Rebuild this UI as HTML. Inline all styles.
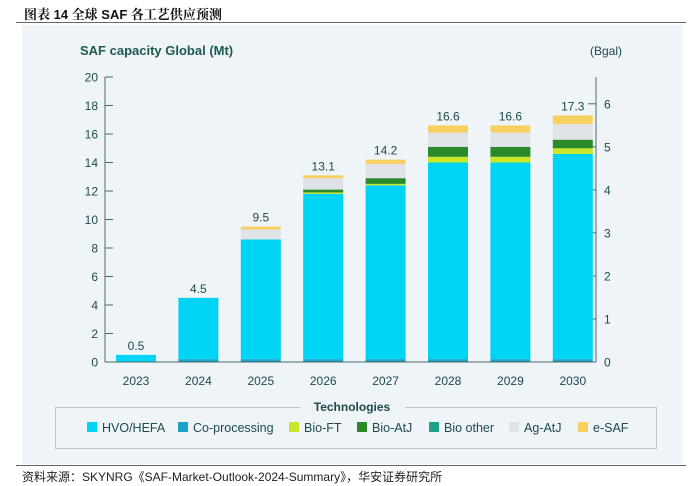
<!DOCTYPE html>
<html><head><meta charset="utf-8"><style>
body{margin:0;width:700px;height:486px;background:#fff;font-family:"Liberation Sans","Noto Sans CJK SC",sans-serif;position:relative;overflow:hidden}
.t{position:absolute}
</style></head><body>
<div class="t" style="left:24px;top:4px;font-size:13px;font-weight:bold;font-family:'Liberation Sans','Noto Serif CJK SC',serif;color:#111">图表 14 全球 SAF 各工艺供应预测</div>
<div class="t" style="left:16px;top:22px;width:670px;height:1px;background:#666"></div>
<div class="t" style="left:22px;top:25px;width:661px;height:439px;background:#eef4f8"></div>
<div class="t" style="left:16px;top:465px;width:670px;height:1px;background:#666"></div>
<div class="t" style="left:22px;top:468px;font-size:12px;color:#222">资料来源：SKYNRG《SAF-Market-Outlook-2024-Summary》，华安证券研究所</div>
<svg class="t" style="left:0;top:0" width="700" height="486" id="chart"></svg>
<script>
const years=["2023","2024","2025","2026","2027","2028","2029","2030"];
const hvo=[0.5,4.3,8.4,11.6,12.2,13.8,13.8,14.4];
const coproc=[0,0.2,0.2,0.2,0.2,0.2,0.2,0.2];
const bioFT=[0,0,0,0.1,0.1,0.4,0.4,0.4];
const bioAtJ=[0,0,0,0.2,0.4,0.7,0.7,0.6];
const bioOther=[0,0,0,0,0,0,0,0];
const agAtJ=[0,0,0.7,0.8,1.0,1.0,1.0,1.1];
const eSAF=[0,0,0.2,0.2,0.3,0.5,0.5,0.6];
const totals=["0.5","4.5","9.5","13.1","14.2","16.6","16.6","17.3"];
const leftTicks=[0,2,4,6,8,10,12,14,16,18,20];
const rightTicks=[0,1,2,3,4,5,6];
const MT_PER_BGAL=3.02;
const svg=document.getElementById('chart');const NS='http://www.w3.org/2000/svg';
function mk(t,a,txt){const e=document.createElementNS(NS,t);for(const k in a)e.setAttribute(k,a[k]);if(txt!==undefined)e.textContent=txt;svg.appendChild(e);return e;}
const y0=362,y20=77;const y=v=>y0-(y0-y20)*v/20;
const x=i=>136+i*62.4;const bw=40;
const tc="#1f4a4a";
let e=mk('text',{x:80,y:55,'font-size':13,'font-weight':'bold',fill:'#1d5a50'},'SAF capacity Global (Mt)');


e=mk('text',{x:606,y:55,'font-size':12,'text-anchor':'middle',fill:tc},'(Bgal)');


mk('line',{x1:105,y1:y(20),x2:105,y2:y0,stroke:'#4a6a6a','stroke-width':1});
mk('line',{x1:596,y1:y(20),x2:596,y2:y0,stroke:'#4a6a6a','stroke-width':1});
leftTicks.forEach(v=>{mk('line',{x1:105,y1:y(v),x2:113,y2:y(v),stroke:'#4a6a6a'});
 e=mk('text',{x:98,y:y(v)+4.5,'font-size':12,'text-anchor':'end',fill:tc},String(v));
 
 });
rightTicks.forEach(v=>{const yy=y(v*MT_PER_BGAL);mk('line',{x1:588,y1:yy,x2:596,y2:yy,stroke:'#4a6a6a'});
 e=mk('text',{x:604,y:yy+4.5,'font-size':12,fill:tc},String(v));
 
 });
const series=[[coproc,'#1ba3c6','co-processing'],[hvo,'#00d4f5','hvo-hefa'],[bioFT,'#c8e62a','bio-ft'],[bioAtJ,'#2a8a2a','bio-atj'],[bioOther,'#1fa08a','bio-other'],[agAtJ,'#dfe3e8','ag-atj'],[eSAF,'#f7d060','e-saf']];
years.forEach((yr,i)=>{let acc=0;
 series.forEach(([arr,c,n])=>{const v=arr[i];if(v>0){const r=mk('rect',{x:x(i)-bw/2,y:y(acc+v),width:bw,height:y(acc)-y(acc+v),fill:c});
  
  }acc+=v;});
 e=mk('text',{x:x(i),y:y(acc)-5,'font-size':12,'text-anchor':'middle',fill:tc},totals[i]);
 
 
 e=mk('text',{x:x(i),y:385,'font-size':12,'text-anchor':'middle',fill:tc},yr);
 
 });
mk('line',{x1:105,y1:y0,x2:596,y2:y0,stroke:'#4a6a6a'});
mk('polyline',{points:'300,407.5 55.5,407.5 55.5,448.5 656.5,448.5 656.5,407.5 405,407.5',fill:'none',stroke:'#bcc5cb'});
e=mk('text',{x:352,y:411,'font-size':12,'font-weight':'bold','text-anchor':'middle',fill:tc},'Technologies');


const leg=[['HVO/HEFA','#00d4f5',87],['Co-processing','#1ba3c6',178],['Bio-FT','#c8e62a',289],['Bio-AtJ','#2a8a2a',357],['Bio other','#1fa08a',429],['Ag-AtJ','#dfe3e8',509],['e-SAF','#f7d060',578]];
leg.forEach(([n,c,lx])=>{const r=mk('rect',{x:lx,y:422,width:10,height:10,fill:c});
 
 
 e=mk('text',{x:lx+15,y:432,'font-size':12.5,fill:tc},n);
 
 });
</script>
</body></html>
